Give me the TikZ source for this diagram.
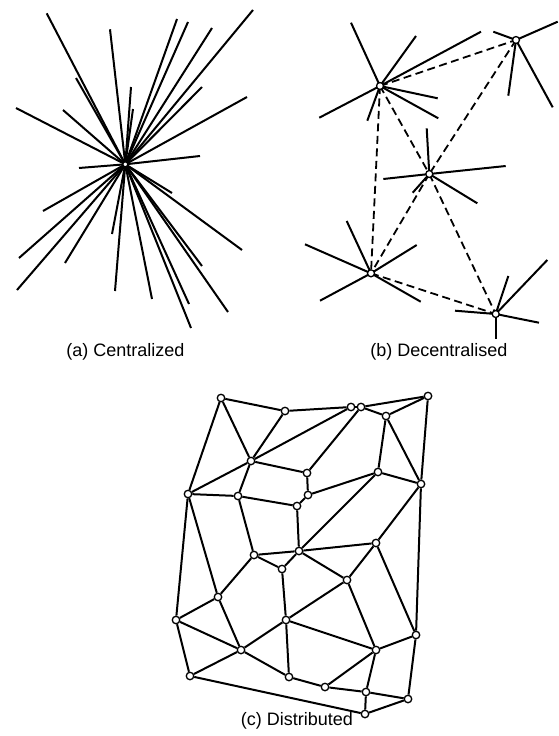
\documentclass[tikz,border=0pt]{standalone}
\usepackage{fontspec}
\setmainfont{Liberation Sans}
\begin{document}
\begin{tikzpicture}[x=1pt,y=-1pt,
  link/.style={line width=2pt},
  dlink/.style={line width=1.8pt, dash pattern=on 8pt off 4.5pt},
  site/.style={circle, draw, fill=white, line width=1.3pt, inner sep=0pt, minimum size=7.5pt},
  hub/.style={circle, draw, fill=white, line width=1.3pt, inner sep=0pt, minimum size=7pt},
  caption/.style={font=\fontsize{18}{21}\selectfont, inner sep=0pt}]
\useasboundingbox (0,0) rectangle (558,736);

% ---------- (a) centralized star ----------
\coordinate (ctr) at (125.3,164.3);
\foreach \x/\y [count=\i] in {
  46.7/13.3, 110/29.3, 177/19, 188/22, 212/28, 253/10, 76/78, 131/87,
  133/109, 202/87, 247/97, 16/108, 63/110, 200/156, 79/168, 172/193,
  43/211, 242/250, 19/258, 65/263, 112/234, 202/266, 17/290, 115/291,
  152/299, 189/304, 228/312, 191/328}
{
  \coordinate (ca\i) at (\x,\y);
  \draw[link] (ctr) -- (ca\i);
}
\node[hub, minimum size=5pt] (core) at (ctr) {};

% ---------- (b) decentralised ----------
\coordinate (h1) at (380,86);
\coordinate (h2) at (516,40);
\coordinate (h3) at (429.3,174);
\coordinate (h4) at (371,273.3);
\coordinate (h5) at (495.7,314);

\foreach \h/\pts in {
  h1/{351/22.7, 416/36, 481/31.7, 437.7/98.3, 438.3/118.3, 319.3/117.7, 367.3/120.7},
  h2/{493.3/31.7, 557.7/21.7, 508.3/95.7, 552.7/107.3},
  h3/{426.7/128.3, 383.3/179, 505.7/166, 477.3/203.3, 412.7/192.7},
  h4/{346.7/221, 305/244.3, 416.7/245, 320/300.7, 420.7/301.7},
  h5/{508.3/276, 547.3/260, 455/310.7, 539/322.7, 495.7/339.3}}
{
  \foreach \x/\y [count=\j] in \pts {
    \coordinate (\h s\j) at (\x,\y);
    \draw[link] (\h) -- (\h s\j);
  }
}
\foreach \p/\q in {h1/h2, h1/h3, h1/h4, h2/h3, h3/h4, h3/h5, h4/h5}
  \draw[dlink] (\p) -- (\q);
\foreach \h in {h1,h2,h3,h4,h5}
  \node[hub] (n\h) at (\h) {};

% ---------- (c) distributed mesh ----------
\foreach \n/\x/\y in {
  A/221/398, B/285/411, C/351/407, D/361/407, E/428/396, F/386/416,
  G/251/461, H/188/494, I/238/496, J/307/473, K/308/495, L/297/506,
  M/378/472, N/421/484, O/254/555, P/299/551, Q/376/543, R/282/569,
  S/218/597, T/176/620, U/286/620, V/347/580, W/416/635, X/241/650,
  Y/376/650, Z/190/676, a1/289/677, a2/325/687, a3/366/692,
  a4/408/699, a5/365/714}
  \node[site] (\n) at (\x,\y) {};

\foreach \p/\q in {
  A/B, A/G, A/H, B/C, B/G, C/D, C/G, D/E, D/F, D/J, E/F, E/N,
  F/M, F/N, G/H, G/I, G/J, H/I, H/S, H/T, I/L, I/O, J/K, K/L,
  K/M, L/P, M/N, M/P, N/Q, N/W, O/P, O/R, O/S, P/R, P/Q, P/V,
  Q/V, Q/W, R/U, S/T, S/X, T/X, T/Z, U/V, U/X, U/Y, U/a1, V/Y,
  W/Y, W/a4, X/Z, X/a1, Z/a5, a1/a2, a2/a3, a2/Y, a3/Y, a3/a4,
  a3/a5, a4/a5}
  \draw[link] (\p) -- (\q);

% ---------- captions ----------
\node[caption] (capa) at (125.5,352) {(a) Centralized};
\node[caption] (capb) at (439,352) {(b) Decentralised};
\node[caption] (capc) at (297,721) {(c) Distributed};
\end{tikzpicture}
\end{document}
